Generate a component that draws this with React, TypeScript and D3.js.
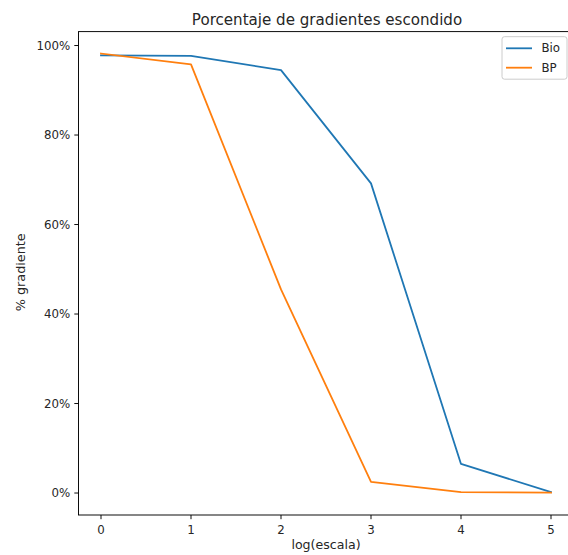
import React from "react";
import * as d3 from "d3";

const steps = [0, 1, 2, 3, 4, 5];
const bioValues = [0.978, 0.977, 0.945, 0.692, 0.065, 0.002];
const bpValues = [0.982, 0.958, 0.455, 0.025, 0.002, 0.001];
const yTicks = [0, 0.2, 0.4, 0.6, 0.8, 1.0];
const seriesNames = ["Bio", "BP"];
const seriesColors = ["#1f77b4", "#ff7f0e"];

function App() {
  const w = 568,
    h = 555;
  const margin = { top: 31.6, bottom: 40, left: 78.5, right: -5.5 };
  const width = w - margin.left - margin.right,
    height = h - margin.top - margin.bottom;

  const xScale = d3.scaleLinear().domain([-0.25, 5.25]).range([0, width]);
  const yScale = d3.scaleLinear().domain([-0.0491, 1.0311]).range([height, 0]);

  const line = d3
    .line<number>()
    .x((d, i) => xScale(steps[i]))
    .y((d) => yScale(d));

  const series = [bioValues, bpValues];
  const font = "DejaVu Sans, sans-serif";

  const axisLeft = yTicks.map((d, i) => (
    <g key={i} transform={`translate(0,${yScale(d)})`}>
      <line x1={0} x2={-4.2} stroke="#000" strokeWidth={0.95} />
      <text x={-8.2} dy=".35em" textAnchor="end" fontSize={11.8} fill="#262626">
        {`${Math.round(d * 100)}%`}
      </text>
    </g>
  ));

  const axisBottom = steps.map((d, i) => (
    <g key={i} transform={`translate(${xScale(d)},${height})`}>
      <line y1={0} y2={4.2} stroke="#000" strokeWidth={0.95} />
      <text y={19} textAnchor="middle" fontSize={11.8} fill="#262626">
        {d}
      </text>
    </g>
  ));

  const paths = series.map((s, i) => (
    <path
      key={i}
      d={line(s) || ""}
      fill="none"
      stroke={seriesColors[i]}
      strokeWidth={1.8}
      strokeLinejoin="round"
      strokeLinecap="square"
    />
  ));

  // legend sits in the upper right, inside the axes
  const legendX = 502,
    legendY = 36.7;
  const legend = (
    <g transform={`translate(${legendX - margin.left},${legendY - margin.top})`}>
      <rect
        width={65}
        height={42.5}
        rx={2.5}
        fill="#fff"
        fillOpacity={0.8}
        stroke="#cccccc"
        strokeWidth={1}
      />
      {seriesNames.map((name, i) => (
        <g key={i} transform={`translate(0,${11.6 + i * 19.4})`}>
          <line x1={4} x2={30} stroke={seriesColors[i]} strokeWidth={1.8} />
          <text x={39.5} dy=".35em" fontSize={11.8} fill="#262626">
            {name}
          </text>
        </g>
      ))}
    </g>
  );

  return (
    <div style={{ position: "absolute", left: 0, top: 0 }}>
      <svg width={w} height={h} style={{ display: "block", fontFamily: font }}>
        <rect width={w} height={h} fill="#fff" />
        <text x={327} y={25} textAnchor="middle" fontSize={15.1} fill="#262626">
          Porcentaje de gradientes escondido
        </text>
        <g transform={`translate(${margin.left},${margin.top})`}>
          {paths}
          <rect
            width={width}
            height={height}
            fill="none"
            stroke="#000"
            strokeWidth={0.95}
          />
          {axisLeft}
          {axisBottom}
          {legend}
          <text
            x={width / 2}
            y={height + 34.5}
            textAnchor="middle"
            fontSize={12.6}
            fill="#262626"
          >
            log(escala)
          </text>
          <text
            transform={`translate(${-53.5},${height / 2 - 1}) rotate(-90)`}
            textAnchor="middle"
            fontSize={12.8}
            fill="#262626"
          >
            % gradiente
          </text>
        </g>
      </svg>
    </div>
  );
}

export default App;
